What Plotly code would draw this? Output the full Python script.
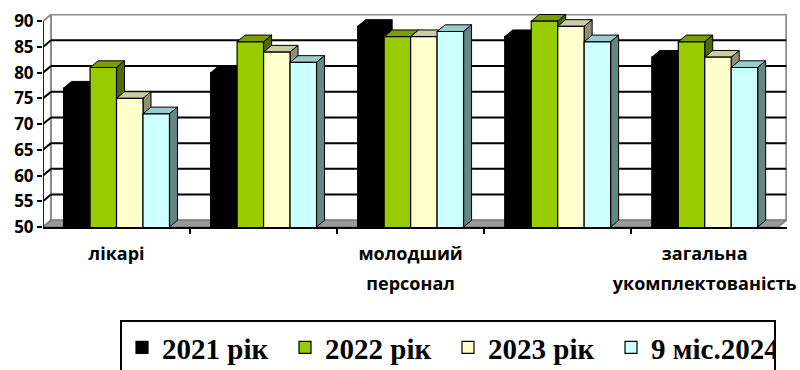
import plotly.graph_objects as go

# ---- data ----
categories = ["лікарі", "середній персонал", "молодший персонал", "інший персонал", "загальна укомплектованість"]
tick_labels = [["лікарі"], [], ["молодший", "персонал"], [], ["загальна", "укомплектованість"]]
series_names = ["2021 рік", "2022 рік", "2023 рік", "9 міс.2024"]
v2021 = [77, 80, 89, 87, 83]
v2022 = [81, 86, 87, 90, 86]
v2023 = [75, 84, 87, 89, 83]
v2024 = [72, 82, 88, 86, 81]
y_ticks = [50, 55, 60, 65, 70, 75, 80, 85, 90]

series_values = [v2021, v2022, v2023, v2024]
front_colors = ["#000000", "#99CC00", "#FFFFCC", "#CCFFFF"]
top_colors = ["#000000", "#7A9E00", "#CCCC9E", "#99CCCC"]
side_colors = ["#000000", "#4F6B00", "#8F8F72", "#668585"]

# ---- geometry (pseudo 3D) ----
Y0, YMAX = 50, 90
DX, DY = 0.0544, 1.3
W = 0.18
offsets = [-0.27, -0.09, 0.09, 0.27]
n = len(categories)
pos = list(range(n))
x_left, x_right = -0.5, n - 0.5

fig = go.Figure()
for j, (name, vals) in enumerate(zip(series_names, series_values)):
    fig.add_trace(go.Bar(
        x=pos, y=vals, name=name, width=W, offset=offsets[j] - W / 2,
        marker=dict(color=front_colors[j], line=dict(color="black", width=1.2)),
    ))

shapes = []
def poly(pts, fill, line="black", lw=1.0):
    p = "M " + " L ".join(f"{x},{y}" for x, y in pts) + " Z"
    return dict(type="path", path=p, xref="x", yref="y", layer="below",
                fillcolor=fill, line=dict(color=line, width=lw))

# walls and floor
shapes.append(poly([(x_left + DX, Y0 + DY), (x_right + DX, Y0 + DY), (x_right + DX, YMAX + DY), (x_left + DX, YMAX + DY)], "white", "#8C8C8C", 2))
shapes.append(poly([(x_left, Y0), (x_left + DX, Y0 + DY), (x_left + DX, YMAX + DY), (x_left, YMAX)], "white", "#8C8C8C", 2))
shapes.append(poly([(x_left, Y0), (x_right, Y0), (x_right + DX, Y0 + DY), (x_left + DX, Y0 + DY)], "#999999", "#808080", 1.5))
# gridlines on back and side walls
for t in y_ticks[1:-1]:
    shapes.append(dict(type="line", xref="x", yref="y", layer="below", x0=x_left + DX, x1=x_right + DX,
                       y0=t + DY, y1=t + DY, line=dict(color="black", width=2)))
    shapes.append(dict(type="line", xref="x", yref="y", layer="below", x0=x_left, x1=x_left + DX,
                       y0=t, y1=t + DY, line=dict(color="black", width=2)))
# bar top / side faces
for i in pos:
    for j, vals in enumerate(series_values):
        v = vals[i]
        xl = i + offsets[j] - W / 2
        xr = xl + W
        shapes.append(poly([(xl, v), (xl + DX, v + DY), (xr + DX, v + DY), (xr, v)], top_colors[j]))
        shapes.append(poly([(xr, Y0), (xr + DX, Y0 + DY), (xr + DX, v + DY), (xr, v)], side_colors[j]))
# front y axis line
shapes.append(dict(type="line", xref="x", yref="y", layer="above", x0=x_left, x1=x_left, y0=Y0, y1=YMAX,
                   line=dict(color="black", width=1.5)))

def tick_text(lines):
    return "<br>".join(f"<span style='font-size:18px'>{s}</span>" for s in lines)

fig.update_layout(
    width=800, height=370,
    margin=dict(l=43, r=13, t=14, b=143, autoexpand=False),
    paper_bgcolor="white", plot_bgcolor="white",
    barmode="overlay",
    shapes=shapes,
    showlegend=True,
    legend=dict(orientation="h", x=120 / 800, y=1 - 320 / 370, xref="container", yref="container",
                xanchor="left", yanchor="top",
                bordercolor="black", borderwidth=2, bgcolor="white",
                entrywidth=118, entrywidthmode="pixels",
                font=dict(family="Liberation Serif", size=29, color="black", weight="bold"),
                itemclick=False),
    xaxis=dict(range=[x_left, x_right + DX + 0.005], showgrid=False, zeroline=False, automargin=False,
               showline=True, linecolor="black", linewidth=1.5,
               tickmode="array", tickvals=pos, ticktext=[tick_text(l) for l in tick_labels],
               ticks="", ticklabelstandoff=4,
               tickfont=dict(family="Open Sans", size=23, color="black", weight="bold"),
               minor=dict(tickmode="array", tickvals=[p + 0.5 for p in pos[:-1]], ticks="outside",
                          ticklen=5, tickcolor="black", tickwidth=1.5, showgrid=False)),
    yaxis=dict(range=[Y0, YMAX + DY + 0.1], showgrid=False, zeroline=False, showline=False, automargin=False,
               tickmode="array", tickvals=y_ticks, ticks="outside", ticklen=5, tickcolor="black",
               tickwidth=1.5,
               tickfont=dict(family="Open Sans", size=17, color="black", weight="bold")),
)

fig.write_html("out.html")
